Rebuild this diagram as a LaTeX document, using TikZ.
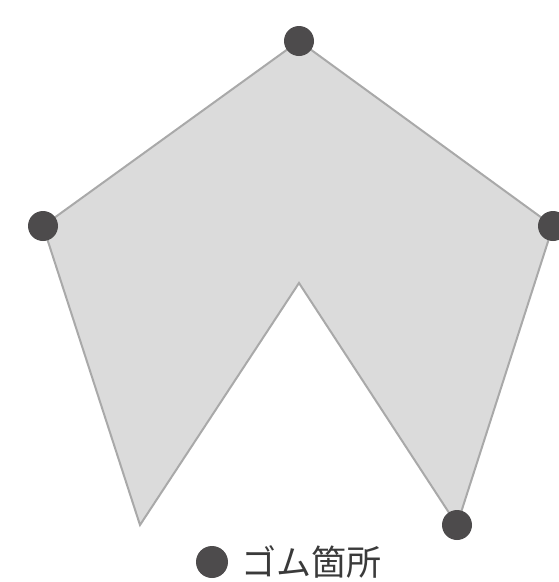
\documentclass[tikz,border=0pt]{standalone}
\usepackage{fontspec}
\usepackage{xcolor}
\usetikzlibrary{positioning}
\newfontfamily\cjk{Noto Sans CJK JP}
\definecolor{panel}{HTML}{DBDBDB}
\definecolor{rim}{HTML}{A9A9A9}
\definecolor{rubber}{HTML}{4D4B4C}
\definecolor{ink}{HTML}{3A3A3A}

\begin{document}
\begin{tikzpicture}[
      x = 1pt, y = -1pt, % pixel-like units, y downwards
      node distance = 13pt, % distance between nodes
      semithick, % line style
    ]

    \tikzstyle{rubber dot}=[
      circle,
      fill = rubber,
      inner sep = 0pt,
      minimum size = 30pt
    ]

    \useasboundingbox (0, 0) rectangle (559, 582);

    \coordinate (top) at (299, 41);
    \coordinate (right) at (553, 226);
    \coordinate (bright) at (457, 525);
    \coordinate (inner) at (299, 283);
    \coordinate (bleft) at (140, 525);
    \coordinate (left) at (43, 226);

    \filldraw[fill = panel, draw = rim, line width = 2pt, line join = miter]
      (top) -- (right) -- (bright) -- (inner) -- (bleft) -- (left) -- cycle;

    \node[rubber dot] (d1) at (top) {};
    \node[rubber dot] (d2) at (right) {};
    \node[rubber dot] (d3) at (bright) {};
    \node[rubber dot] (d4) at (left) {};

    % legend
    \node[rubber dot, minimum size = 32pt] (key) at (212, 562) {};
    \node[right = of key, inner sep = 0pt, text = ink, font = \cjk\fontsize{35pt}{35pt}\selectfont] (keytext) {ゴム箇所};

  \end{tikzpicture}
\end{document}
